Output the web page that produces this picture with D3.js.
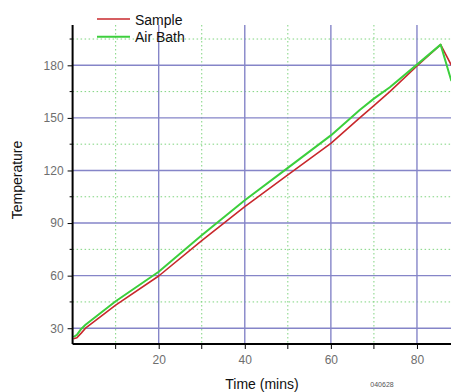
<!DOCTYPE html>
<html>
<head>
<meta charset="utf-8">
<script src="https://cdn.jsdelivr.net/npm/d3@7"></script>
<style>
  body { margin: 0; background: #fff; }
  text { font-family: Arial, "Liberation Sans", sans-serif; }
</style>
</head>
<body>
<div id="vis"></div>
<script>
const FRAME_WIDTH = 451;
const FRAME_HEIGHT = 392;

// readings
const TIMES = [0.2, 1, 2, 3, 10, 20, 30, 40, 50, 60, 66.7, 70, 73.7, 80, 85.5, 88];
const SAMPLE = [24, 24.6, 27.2, 30, 43.2, 59.8, 80, 99.4, 117.5, 135.5, 150, 157, 165, 179.6, 191.8, 180];
const AIR_BATH = [25, 26.2, 29.6, 32, 45.4, 62.2, 83, 103, 121.5, 140, 154.5, 161, 167.5, 180.4, 191.8, 171];

const X_TICKS = [20, 40, 60, 80];
const X_MINOR = [10, 30, 50, 70, 90];
const Y_TICKS = [30, 60, 90, 120, 150, 180];
const Y_MINOR = [45, 75, 105, 135, 165, 195];

const SERIES = [
  {name: "Sample", values: SAMPLE, color: "#c8282c", width: 1.6},
  {name: "Air Bath", values: AIR_BATH, color: "#3ccf3c", width: 2}
];

const svg = d3.select("#vis")
  .append("svg")
  .attr("width", FRAME_WIDTH)
  .attr("height", FRAME_HEIGHT);

const X_SCALE = d3.scaleLinear().domain([0, 88]).range([72.6, 451.4]);
const Y_SCALE = d3.scaleLinear().domain([21, 203]).range([344, 25]);

const PLOT = {left: X_SCALE(0), right: FRAME_WIDTH, top: Y_SCALE(203), bottom: Y_SCALE(21)};

svg.append("clipPath").attr("id", "plot-clip")
  .append("rect")
    .attr("x", PLOT.left).attr("y", PLOT.top)
    .attr("width", PLOT.right - PLOT.left).attr("height", PLOT.bottom - PLOT.top);

const grid = svg.append("g").attr("clip-path", "url(#plot-clip)");

// minor dotted grid
grid.selectAll(".vminor").data(X_MINOR).enter().append("line")
  .attr("x1", d => X_SCALE(d)).attr("x2", d => X_SCALE(d))
  .attr("y1", PLOT.top).attr("y2", PLOT.bottom)
  .attr("stroke", "#7fd47f").attr("stroke-width", 1).attr("stroke-dasharray", "1.5,2.5");
grid.selectAll(".hminor").data(Y_MINOR).enter().append("line")
  .attr("x1", PLOT.left).attr("x2", PLOT.right)
  .attr("y1", d => Y_SCALE(d)).attr("y2", d => Y_SCALE(d))
  .attr("stroke", "#7fd47f").attr("stroke-width", 1).attr("stroke-dasharray", "1.5,2.5");

// major grid
grid.selectAll(".vmajor").data(X_TICKS).enter().append("line")
  .attr("x1", d => X_SCALE(d)).attr("x2", d => X_SCALE(d))
  .attr("y1", PLOT.top).attr("y2", PLOT.bottom)
  .attr("stroke", "#8585c8").attr("stroke-width", 1.4);
grid.selectAll(".hmajor").data(Y_TICKS).enter().append("line")
  .attr("x1", PLOT.left).attr("x2", PLOT.right)
  .attr("y1", d => Y_SCALE(d)).attr("y2", d => Y_SCALE(d))
  .attr("stroke", "#8585c8").attr("stroke-width", 1.4);

// series
const line = d3.line()
  .x((d, i) => X_SCALE(TIMES[i]))
  .y(d => Y_SCALE(d));

grid.selectAll(".series").data(SERIES).enter().append("path")
  .attr("d", d => line(d.values))
  .attr("fill", "none")
  .attr("stroke", d => d.color)
  .attr("stroke-width", d => d.width)
  .attr("stroke-linejoin", "round");

// axes
const xAxis = d3.axisBottom(X_SCALE).tickValues(X_TICKS).tickSize(5).tickPadding(6);
const gx = svg.append("g").attr("transform", `translate(0,${PLOT.bottom})`).call(xAxis);
gx.append("g").selectAll("line").data(X_MINOR.filter(d => X_SCALE(d) < PLOT.right)).enter().append("line")
  .attr("x1", d => X_SCALE(d)).attr("x2", d => X_SCALE(d))
  .attr("y1", 0).attr("y2", 5).attr("stroke", "#000");

const yAxis = d3.axisLeft(Y_SCALE).tickValues(Y_TICKS).tickSize(5).tickPadding(4);
const gy = svg.append("g").attr("transform", `translate(${PLOT.left},0)`).call(yAxis);
gy.append("g").selectAll("line").data(Y_MINOR).enter().append("line")
  .attr("x1", 0).attr("x2", -3)
  .attr("y1", d => Y_SCALE(d)).attr("y2", d => Y_SCALE(d)).attr("stroke", "#000");

[gx, gy].forEach(g => {
  g.select(".domain").attr("stroke", "#000").attr("stroke-width", 2);
  g.selectAll(".tick line").attr("stroke", "#000");
  g.selectAll(".tick text")
    .attr("font-size", 12).attr("fill", "#6e6e6e")
    .attr("font-family", "Arial, 'Liberation Sans', sans-serif");
});
gx.select(".domain").attr("d", `M${PLOT.left},0H${PLOT.right}`);
gy.select(".domain").attr("d", `M0,${PLOT.top}V${PLOT.bottom}`);

// titles
svg.append("text")
  .attr("x", 262).attr("y", 389)
  .attr("text-anchor", "middle").attr("font-size", 14).attr("fill", "#111")
  .text("Time (mins)");

svg.append("text")
  .attr("transform", `translate(22,${180}) rotate(-90)`)
  .attr("text-anchor", "middle").attr("font-size", 14).attr("fill", "#111")
  .text("Temperature");

svg.append("text")
  .attr("x", 382).attr("y", 387)
  .attr("text-anchor", "middle").attr("font-size", 7).attr("fill", "#555")
  .text("040628");

// legend
const legend = svg.selectAll(".legend").data(SERIES).enter().append("g")
  .attr("transform", (d, i) => `translate(97,${19 + i * 17.7})`);
legend.append("line")
  .attr("x1", 0).attr("x2", 33).attr("y1", 0).attr("y2", 0)
  .attr("stroke", d => d.color).attr("stroke-width", d => d.width);
legend.append("text")
  .attr("x", 38).attr("y", 5.5)
  .attr("font-size", 14).attr("fill", "#111")
  .text(d => d.name);
</script>
</body>
</html>
